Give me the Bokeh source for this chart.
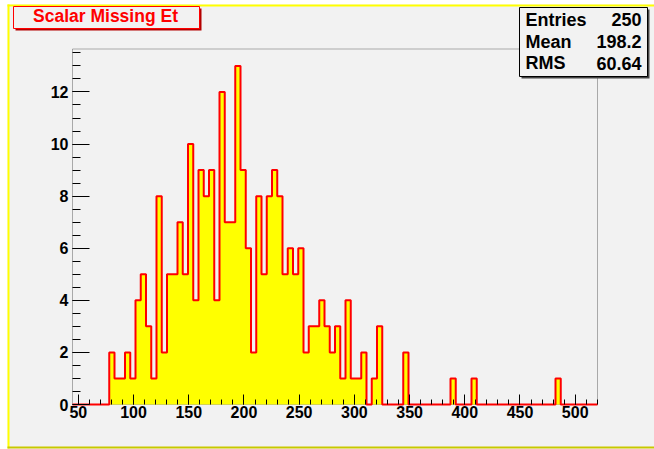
import numpy as np
from bokeh.plotting import figure
from bokeh.models import FixedTicker, BoxAnnotation, Label, Range1d
from bokeh.embed import file_html
from bokeh.resources import INLINE

# ---- data ----
title_text = "Scalar Missing Et"
x_min = 44.7
x_max = 520.2
n_bins = 100
counts = ([0] * 7 +
          [2, 1, 1, 2, 1, 4, 5, 3, 1, 8, 2, 5, 5, 7, 5, 10, 4, 9, 8, 9,
           4, 12, 7, 7, 13, 9, 6, 2, 8, 5, 8, 9, 8, 5, 6, 5, 6, 2, 3, 3,
           4, 3, 2, 3, 1, 4, 1, 1, 2, 0, 1, 3] +
          [0] * 4 + [2] + [0] * 8 + [1] + [0] * 3 + [1] + [0] * 15 + [1] + [0] * 7)
y_max = 13.65
x_ticks = [50, 100, 150, 200, 250, 300, 350, 400, 450, 500]
x_minor = [50, 60, 70, 80, 90, 100, 110, 120, 130, 140, 150, 160, 170, 180, 190,
           200, 210, 220, 230, 240, 250, 260, 270, 280, 290, 300, 310, 320, 330,
           340, 350, 360, 370, 380, 390, 400, 410, 420, 430, 440, 450, 460, 470,
           480, 490, 500, 510, 520]
y_ticks = [0, 2, 4, 6, 8, 10, 12]
y_minor = [0, 0.5, 1, 1.5, 2, 2.5, 3, 3.5, 4, 4.5, 5, 5.5, 6, 6.5, 7, 7.5, 8, 8.5,
           9, 9.5, 10, 10.5, 11, 11.5, 12, 12.5, 13, 13.5]
stat_names = ["Entries", "Mean", "RMS"]
stat_values = ["250", "198.2", "60.64"]

edges = np.linspace(x_min, x_max, n_bins + 1)
step_y = list(counts) + [0]

BG = "#f2f2f2"
FONT = "Liberation Sans"

# canvas & ROOT-frame geometry (pixels)
W, H = 654, 449
FL, FR, FT, FB = 72, 597, 48.5, 404
kx = (FR - FL) / (x_max - x_min)
ky = (FB - FT) / y_max
X0 = x_min - FL / kx
X1 = x_max + (W - FR) / kx
Y0 = -(H - FB) / ky
Y1 = y_max + FT / ky

p = figure(width=W, height=H, x_range=Range1d(X0, X1), y_range=Range1d(Y0, Y1),
           output_backend="svg", toolbar_location=None, min_border=0)
p.background_fill_color = "white"
p.border_fill_color = "white"
p.outline_line_color = None
p.xgrid.visible = False
p.ygrid.visible = False


def sx(px):
    return px


def sy(py):
    return H - py


def box(l, t, r, b, fill, line=None, lw=1, level="annotation"):
    ba = BoxAnnotation(left=sx(l), right=sx(r), top=sy(t), bottom=sy(b),
                       left_units="screen", right_units="screen",
                       top_units="screen", bottom_units="screen",
                       fill_color=fill, fill_alpha=1.0 if fill else 0.0,
                       line_color=line, line_width=lw, line_alpha=1.0 if line else 0.0,
                       level=level)
    p.add_layout(ba)


def text(x, y, s, align, color, size):
    p.add_layout(Label(x=sx(x), y=sy(y), x_units="screen", y_units="screen",
                       text=s, text_align=align, text_baseline="middle",
                       text_font=FONT, text_font_style="bold", text_font_size=size,
                       text_color=color, level="overlay"))


# ROOT canvas with bevel border
box(7, 4, 660, 448, BG, level="underlay")
box(7, 4, 9, 448, "#ffff00", level="underlay")
box(7, 4, 660, 6, "#ffff00", level="underlay")
box(7, 446, 660, 448, "#c8c800", level="underlay")

# ROOT frame box
p.add_layout(BoxAnnotation(left=x_min, right=x_max, bottom=0, top=y_max,
                           fill_alpha=0.0, line_color="black", line_width=1,
                           level="underlay"))

# histogram: filled area + red outline
p.varea_step(x=edges, y1=0, y2=step_y, step_mode="after", fill_color="#ffff00")
p.step(x=edges, y=step_y, mode="after", line_color="#ff0000", line_width=2)

# axes drawn at the ROOT frame edges
p.xaxis.fixed_location = 0
p.yaxis.fixed_location = x_min
p.xaxis.bounds = (x_min, x_max)
p.yaxis.bounds = (0, y_max)
for ax in (p.xaxis[0], p.yaxis[0]):
    ax.axis_line_color = None
    ax.major_tick_line_color = "black"
    ax.minor_tick_line_color = "black"
    ax.major_tick_out = 0
    ax.minor_tick_out = 0
    ax.major_label_text_font = FONT
    ax.major_label_text_font_style = "bold"
    ax.major_label_text_color = "black"
p.xaxis.major_label_text_font_size = "16px"
p.yaxis.major_label_text_font_size = "16px"
p.xaxis.major_label_standoff = 1
p.yaxis.major_label_standoff = 4

p.xaxis.ticker = FixedTicker(ticks=x_ticks, minor_ticks=x_minor)
p.yaxis.ticker = FixedTicker(ticks=y_ticks, minor_ticks=y_minor)
p.xaxis.major_tick_in = 10
p.xaxis.minor_tick_in = 5
p.yaxis.major_tick_in = 17
p.yaxis.minor_tick_in = 8

# title box
box(15, 8, 201, 30, "#b40000")
box(13, 6, 199, 28, BG, "#ff0000", 1)
text(105, 15.7, title_text, "center", "#ff0000", "17.5px")

# stats box
box(521, 9, 649, 78, "#444444")
box(519, 7, 647, 76, BG, "black", 1)
row_centers = [19.3, 41, 62.5]
for yc, n, v in zip(row_centers, stat_names, stat_values):
    text(525, yc, n, "left", "black", "18px")
    text(641, yc, v, "right", "black", "18px")

open("out.html", "w").write(file_html(p, INLINE))
